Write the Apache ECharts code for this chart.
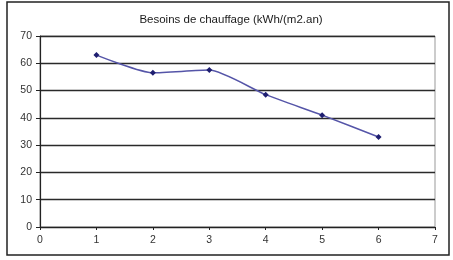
<!DOCTYPE html>
<html>
<head>
<meta charset="utf-8">
<script src="https://cdn.jsdelivr.net/npm/echarts@6/dist/echarts.min.js"></script>
<style>
  html, body { margin: 0; padding: 0; background: #fff; }
  #chart { width: 453px; height: 260px; }
</style>
</head>
<body>
<div id="chart"></div>
<script>
// valeurs
const xValues = [1, 2, 3, 4, 5, 6];
const besoins = [63, 56.5, 57.5, 48.5, 41, 33];
const titre = "Besoins de chauffage (kWh/(m2.an)";

const points = xValues.map((x, i) => [x, besoins[i]]);

const chart = echarts.init(document.getElementById("chart"));
chart.setOption({
  animation: false,
  title: {
    text: titre,
    left: 226,
    textAlign: "center",
    top: 9,
    textStyle: { fontFamily: "Liberation Sans", fontSize: 11.5, fontWeight: "normal", color: "#1a1a1a" },
  },
  graphic: [
    {
      type: "rect",
      shape: { x: 7, y: 2, width: 442, height: 253 },
      style: { fill: "none", stroke: "#222", lineWidth: 1.5 },
    },
  ],
  grid: {
    left: 40,
    right: 18,
    top: 36,
    bottom: 33,
    show: true,
    borderColor: "#999",
    borderWidth: 1,
  },
  xAxis: {
    type: "value",
    min: 0,
    max: 7,
    interval: 1,
    splitLine: { show: false },
    axisLine: { lineStyle: { color: "#222", width: 1.2 } },
    axisTick: { show: true, length: 3, lineStyle: { color: "#222" } },
    axisLabel: { fontFamily: "Liberation Sans", fontSize: 10.5, color: "#333", margin: 8 },
  },
  yAxis: {
    type: "value",
    min: 0,
    max: 70,
    interval: 10,
    axisLine: { show: true, lineStyle: { color: "#222", width: 1.2 } },
    axisTick: { show: true, length: 4, lineStyle: { color: "#222" } },
    splitLine: { lineStyle: { color: "#2a2a2a", width: 1.4 } },
    axisLabel: { fontFamily: "Liberation Sans", fontSize: 10.5, color: "#333", margin: 8 },
  },
  series: [
    {
      type: "line",
      data: points,
      smooth: 0.2,
      symbol: "diamond",
      symbolSize: 6,
      lineStyle: { color: "#5555a8", width: 1.5 },
      itemStyle: { color: "#1e1e70" },
    },
  ],
});
</script>
</body>
</html>
